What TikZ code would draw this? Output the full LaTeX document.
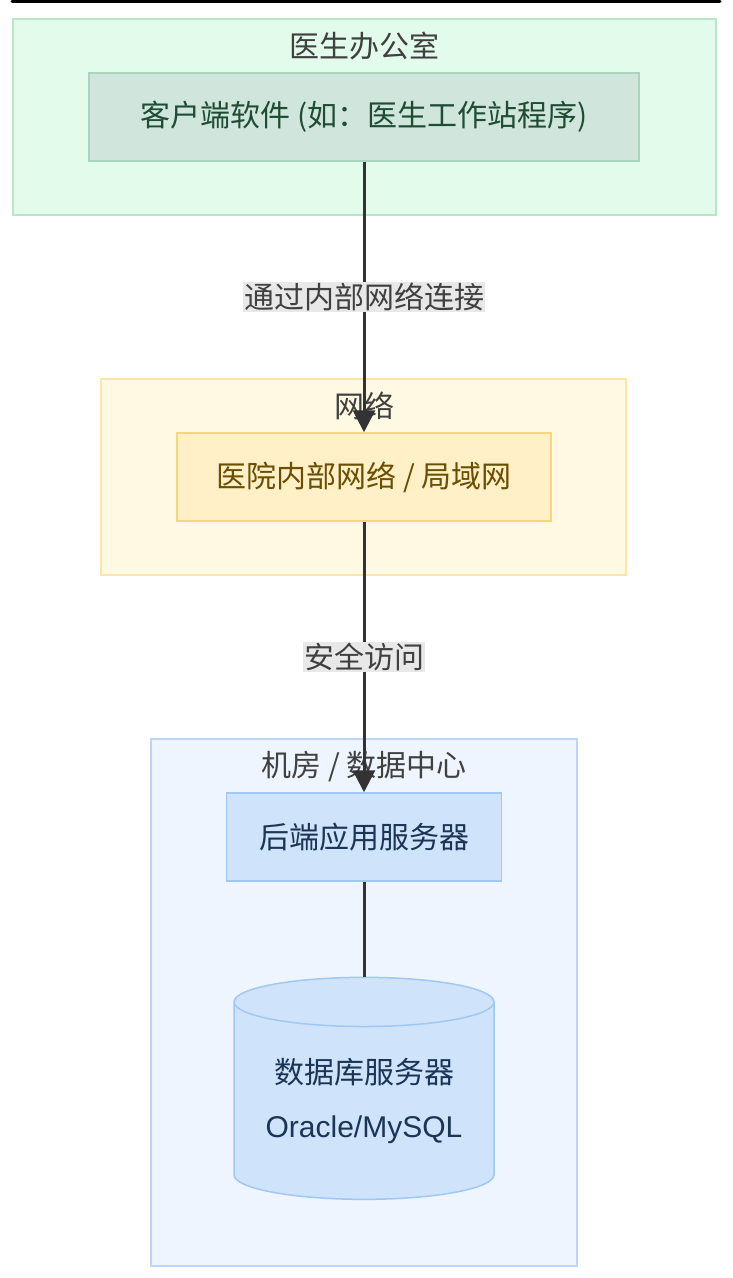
\documentclass[tikz,border=0pt]{standalone}
\usepackage{fontspec}
\setmainfont{Noto Sans CJK SC}
\newfontfamily\lat{Liberation Sans}
\usetikzlibrary{shapes.geometric,arrows.meta}
\definecolor{gAfill}{HTML}{E3FBEA}\definecolor{gAdraw}{HTML}{B9E6C5}
\definecolor{nAfill}{HTML}{D0E5DC}\definecolor{nAdraw}{HTML}{A8D5BD}\definecolor{nAtext}{HTML}{1E4D33}
\definecolor{gBfill}{HTML}{FFF8E3}\definecolor{gBdraw}{HTML}{FBE6A8}
\definecolor{nBfill}{HTML}{FFF0C8}\definecolor{nBdraw}{HTML}{F5D67A}\definecolor{nBtext}{HTML}{6B4E00}
\definecolor{gCfill}{HTML}{EEF5FF}\definecolor{gCdraw}{HTML}{BCD6FB}
\definecolor{nCfill}{HTML}{CFE3FB}\definecolor{nCdraw}{HTML}{A0C8F4}\definecolor{nCtext}{HTML}{1A3556}
\definecolor{edge}{HTML}{333333}\definecolor{lblbg}{HTML}{E8E8E8}
\begin{document}
\begin{tikzpicture}[x=1pt,y=-1pt,
  grp/.style={line width=1.5pt},
  ttl/.style={font=\fontsize{30}{34}\selectfont, text=black!75},
  box/.style={draw, line width=1.5pt, minimum height=88pt, font=\fontsize{30}{34}\selectfont, inner sep=0pt},
  lbl/.style={fill=lblbg, font=\fontsize{30}{34}\selectfont, text=black!75, inner sep=1pt},
  conn/.style={draw=edge, line width=3pt},
  arr/.style={conn, -{Triangle[length=22pt,width=22pt]}}]
\useasboundingbox (0,0) rectangle (732,1278);
\draw[line width=3pt, line cap=round] (12,1) -- (720,1);
\draw[grp, fill=gAfill, draw=gAdraw] (13,19) rectangle (716,215);
\node[ttl] (tA) at (364,46) {医生办公室};
\node[box, fill=nAfill, draw=nAdraw, text=nAtext, minimum width=550pt] (client) at (364,117) {客户端软件 (如：医生工作站程序)};
\draw[grp, fill=gBfill, draw=gBdraw] (101,379) rectangle (626,575);
\node[ttl] (tB) at (364,406) {网络};
\node[box, fill=nBfill, draw=nBdraw, text=nBtext, minimum width=374pt] (lan) at (364,477) {医院内部网络 / 局域网};
\draw[grp, fill=gCfill, draw=gCdraw] (151,739) rectangle (577,1266);
\node[ttl] (tC) at (364,767) {机房 / 数据中心};
\node[box, fill=nCfill, draw=nCdraw, text=nCtext, minimum width=275pt] (app) at (364,837) {后端应用服务器};
\node[cylinder, shape border rotate=90, aspect=0.25, draw=nCdraw, fill=nCfill, line width=1.5pt,
  minimum width=260pt, minimum height=222pt, inner sep=0pt, text=nCtext, align=center,
  font=\fontsize{30}{54}\selectfont] (db) at (364,1101) {数据库服务器\\{\lat Oracle/MySQL}};
\draw[arr] (client) -- (lan) node[lbl, pos=0.5] (l1) {通过内部网络连接};
\draw[arr] (lan) -- (app) node[lbl, pos=0.5] (l2) {安全访问};
\draw[conn] (app) -- (db.top);
\end{tikzpicture}
\end{document}
